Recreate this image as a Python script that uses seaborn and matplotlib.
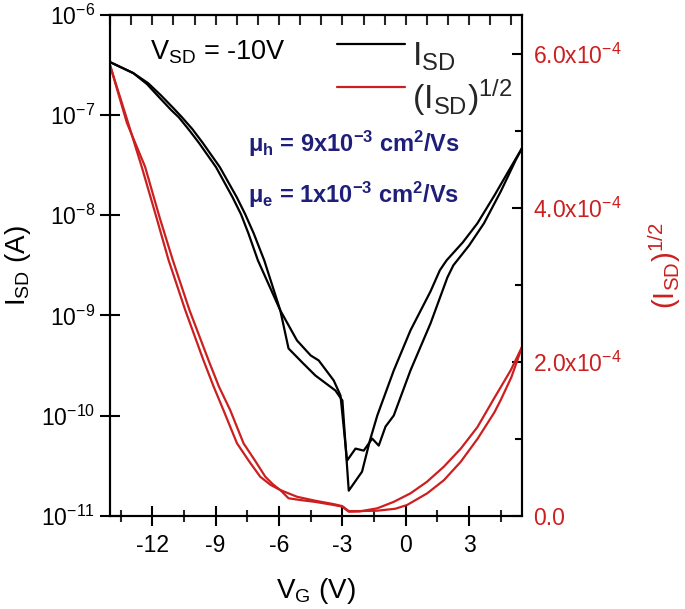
import numpy as np
import pandas as pd
import matplotlib
matplotlib.use("Agg")
import matplotlib.pyplot as plt
import seaborn as sns
from matplotlib.ticker import FixedLocator, MultipleLocator, FuncFormatter, NullLocator
from matplotlib.legend_handler import HandlerLine2D

# ---------------- data ----------------
# I_SD, two sweep branches (log10 of current in A)
vg_b1 = [-14.0, -13.5, -12.9, -12.2, -11.6, -11.0, -10.6, -10.1, -9.6, -8.8, -8.0,
         -7.6, -7.2, -6.7, -5.94, -5.55, -4.9, -4.28, -3.33, -3.0, -2.70, -2.07,
         -1.70, -1.35, -0.57, 0.22, 1.17, 1.61, 1.93, 2.7, 3.39, 4.2, 4.97, 5.5]
log_b1 = [-6.47, -6.52, -6.58, -6.68, -6.80, -6.93, -7.02, -7.14, -7.28, -7.52, -7.82,
          -7.99, -8.18, -8.45, -8.95, -9.33, -9.47, -9.60, -9.75, -9.85, -10.75, -10.56,
          -10.25, -10.0, -9.55, -9.15, -8.76, -8.55, -8.45, -8.27, -8.08, -7.80, -7.52, -7.33]
vg_b2 = [-14.0, -13.5, -12.9, -12.25, -11.68, -11.1, -10.75, -10.25, -9.78, -8.98, -8.2,
         -7.8, -7.45, -7.0, -5.94, -5.15, -4.5, -4.12, -3.41, -3.09, -2.78, -2.38,
         -1.99, -1.59, -1.28, -0.96, -0.57, 0.22, 1.17, 1.97, 2.25, 3.0, 3.70, 4.5,
         5.2, 5.5]
log_b2 = [-6.47, -6.52, -6.58, -6.69, -6.82, -6.95, -7.02, -7.15, -7.28, -7.52, -7.82,
          -7.99, -8.18, -8.45, -8.95, -9.25, -9.40, -9.45, -9.65, -9.80, -10.45, -10.33,
          -10.35, -10.23, -10.30, -10.11, -10.0, -9.55, -9.08, -8.62, -8.50, -8.30, -8.08,
          -7.76, -7.45, -7.33]

# (I_SD)^1/2, two sweep branches (units of 1e-4 A^1/2)
vg_r1 = [-14.0, -13.2, -12.50, -11.8, -11.23, -10.44, -9.58, -9.1, -8.63, -7.99, -7.4,
         -6.89, -6.4, -5.94, -5.55, -4.9, -4.3, -3.41, -3.01, -2.70, -2.2, -1.35,
         -0.57, 0.22, 1.0, 1.80, 2.6, 3.39, 4.13, 4.97, 5.5]
sq_r1 = [5.85, 5.15, 4.53, 3.87, 3.32, 2.67, 2.02, 1.68, 1.37, 0.94, 0.70,
         0.506, 0.40, 0.333, 0.226, 0.20, 0.18, 0.139, 0.117, 0.052, 0.055, 0.096,
         0.18, 0.29, 0.44, 0.636, 0.87, 1.15, 1.50, 1.89, 2.19]
vg_r2 = [-14.0, -13.2, -12.34, -11.65, -11.03, -10.24, -9.34, -8.85, -8.31, -7.68, -7.1,
         -6.65, -6.3, -5.94, -5.15, -4.3, -3.41, -3.01, -2.7, -2.2, -1.35, -0.5,
         0.06, 1.01, 1.8, 2.60, 3.4, 4.19, 4.49, 5.0, 5.5]
sq_r2 = [5.85, 5.10, 4.53, 3.87, 3.32, 2.67, 2.02, 1.68, 1.37, 0.94, 0.70,
         0.506, 0.41, 0.333, 0.246, 0.195, 0.15, 0.125, 0.06, 0.06, 0.065, 0.09,
         0.139, 0.29, 0.46, 0.70, 1.00, 1.34, 1.50, 1.80, 2.19]

x_ticks = [-12, -9, -6, -3, 0, 3]
left_ticks = [1e-11, 1e-10, 1e-9, 1e-8, 1e-7, 1e-6]
right_ticks = [0.0, 2e-4, 4e-4, 6e-4]

legend_labels = [r'I$_\mathregular{SD}$', r'(I$_\mathregular{SD}$)$^\mathregular{1/2}$']
vsd_text = r'V$_\mathregular{SD}$ = -10V'
mob_h = r'μ$_\mathregular{h}$ = 9x10$^\mathregular{-3}$ cm$^\mathregular{2}$/Vs'
mob_e = r'μ$_\mathregular{e}$ = 1x10$^\mathregular{-3}$ cm$^\mathregular{2}$/Vs'

# ---------------- style ----------------
sns.set_theme(style="white")
plt.rcParams['font.family'] = ['Liberation Sans', 'DejaVu Sans']
plt.rcParams['mathtext.fontset'] = 'custom'
plt.rcParams['mathtext.rm'] = 'Liberation Sans'
plt.rcParams['mathtext.it'] = 'Liberation Sans:italic'
plt.rcParams['mathtext.bf'] = 'Liberation Sans:bold'
plt.rcParams['axes.unicode_minus'] = False
plt.rcParams['axes.linewidth'] = 1.5

RED = '#cc1f1f'
NAVY = '#1f1f7a'

fig = plt.figure(figsize=(6.85, 6.09), dpi=100)
ax = fig.add_axes([110/685, 1-515.7/609, 412/685, 500.7/609])
ax2 = ax.twinx()

df_b1 = pd.DataFrame({'V': vg_b1, 'I': 10.0**np.array(log_b1)})
df_b2 = pd.DataFrame({'V': vg_b2, 'I': 10.0**np.array(log_b2)})
df_r1 = pd.DataFrame({'V': vg_r1, 'S': np.array(sq_r1)*1e-4})
df_r2 = pd.DataFrame({'V': vg_r2, 'S': np.array(sq_r2)*1e-4})

sns.lineplot(data=df_b1, x='V', y='I', ax=ax, color='black', lw=1.6, sort=False, estimator=None)
sns.lineplot(data=df_b2, x='V', y='I', ax=ax, color='black', lw=1.6, sort=False, estimator=None)
sns.lineplot(data=df_r1, x='V', y='S', ax=ax2, color=RED, lw=1.6, sort=False, estimator=None)
sns.lineplot(data=df_r2, x='V', y='S', ax=ax2, color=RED, lw=1.6, sort=False, estimator=None)

ax.set_yscale('log')
ax.set_xlim(-14, 5.5)
ax.set_ylim(1e-11, 1e-6)
ax2.set_ylim(0, 6.5e-4)

for a in (ax, ax2):
    for s in a.spines.values():
        s.set_linewidth(1.5)
        s.set_color('black')

# bottom axis
ax.xaxis.set_major_locator(FixedLocator(x_ticks))
ax.xaxis.set_minor_locator(MultipleLocator(1.5))
ax.tick_params(axis='x', which='major', direction='inout', length=15, width=1.5,
               labelsize=16.5, pad=6, bottom=True, top=False, colors='black')
ax.tick_params(axis='x', which='minor', direction='inout', length=8, width=1.5,
               bottom=True, top=False)
ax.set_xticklabels([str(t) for t in x_ticks])

# top ticks
sec = ax.secondary_xaxis('top')
sec.xaxis.set_major_locator(MultipleLocator(1))
sec.tick_params(direction='in', length=7, width=1.5, labeltop=False)
sec.spines['top'].set_linewidth(1.5)

# left axis
ax.yaxis.set_major_locator(FixedLocator(left_ticks))
ax.yaxis.set_minor_locator(NullLocator())
def lfmt(v, pos):
    e = int(round(np.log10(v)))
    return '10$^\\mathregular{%d}$' % e
ax.yaxis.set_major_formatter(FuncFormatter(lfmt))
ax.tick_params(axis='y', which='major', direction='inout', length=15, width=1.5,
               labelsize=16.5, pad=3, left=True, right=False, colors='black')

# right axis
ax2.yaxis.set_major_locator(FixedLocator(right_ticks))
ax2.yaxis.set_minor_locator(MultipleLocator(1e-4))
def rfmt(v, pos):
    if abs(v) < 1e-12:
        return '0.0'
    m = v / 1e-4
    return '%.1fx10$^\\mathregular{-4}$' % m
ax2.yaxis.set_major_formatter(FuncFormatter(rfmt))
ax2.tick_params(axis='y', which='major', direction='in', length=7, width=1.5,
                labelsize=16.5, pad=8, labelcolor=RED, color='black')
ax2.tick_params(axis='y', which='minor', direction='in', length=5, width=1.5, color='black')

ax.set_xlabel(r'V$_\mathregular{G}$ (V)', fontsize=20, labelpad=13, color='black')
ax.set_ylabel(r'I$_\mathregular{SD}$ (A)', fontsize=20, labelpad=6, color='black')
ax2.set_ylabel(r'(I$_\mathregular{SD}$)$^\mathregular{1/2}$', fontsize=21, color=RED, labelpad=18)

ax.grid(False)
ax2.grid(False)

# texts
ax.text((150-110)/412, (515.7-60)/500.7, vsd_text, transform=ax.transAxes,
        fontsize=19.5, ha='left', va='baseline', color='black')
ax.text((248-110)/412, (515.7-152)/500.7, mob_h, transform=ax.transAxes,
        fontsize=17, fontweight='bold', ha='left', va='baseline', color=NAVY)
ax.text((248-110)/412, (515.7-203)/500.7, mob_e, transform=ax.transAxes,
        fontsize=17, fontweight='bold', ha='left', va='baseline', color=NAVY)

# legend
class OffsetLine(HandlerLine2D):
    def __init__(self, dy=0, **kw):
        super().__init__(**kw)
        self.dy = dy
    def create_artists(self, legend, orig_handle, xdescent, ydescent, width, height, fontsize, trans):
        arts = super().create_artists(legend, orig_handle, xdescent, ydescent, width, height, fontsize, trans)
        for a in arts:
            if hasattr(a, 'get_ydata'):
                a.set_ydata(np.asarray(a.get_ydata()) + self.dy)
        return arts

h1 = ax.get_lines()[0]
h2 = ax2.get_lines()[0]
leg = ax2.legend([h1, h2], legend_labels, loc='upper left',
                 bbox_to_anchor=((337-110)/412, (515.7-41)/500.7),
                 frameon=False, fontsize=24.5, handlelength=2.0, handletextpad=0.2,
                 borderpad=0, borderaxespad=0, labelspacing=0.1,
                 handler_map={h1: OffsetLine(dy=7), h2: OffsetLine(dy=7)})

fig.savefig('out.png', dpi=100)
